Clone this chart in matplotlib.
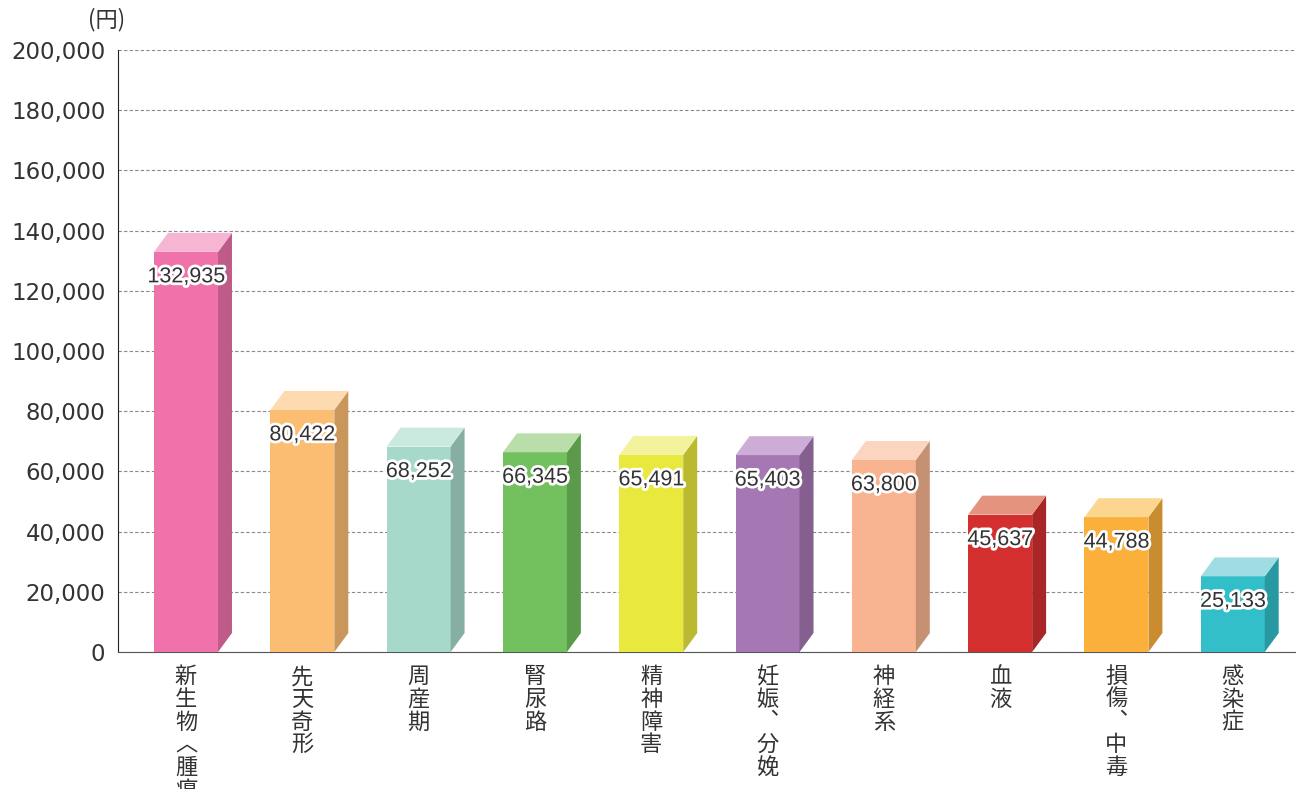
import numpy as np
import matplotlib
matplotlib.use("Agg")
import matplotlib.pyplot as plt
import matplotlib.colors as mcolors
import matplotlib.patheffects as pe

plt.rcParams['font.family'] = ['Noto Sans CJK JP', 'DejaVu Sans']

categories = ["新生物︿腫瘍﹀", "先天奇形", "周産期", "腎尿路", "精神障害",
              "妊娠︑分娩", "神経系", "血液", "損傷︑中毒", "感染症"]
values = [132935, 80422, 68252, 66345, 65491, 65403, 63800, 45637, 44788, 25133]
front_colors = ["#EF72AA", "#FBBD72", "#A7D9CA", "#72C05E", "#E9E83C",
                "#A577B3", "#F8B490", "#D32F2F", "#FBB03B", "#33BFC9"]
top_colors = ["#F5B5D3", "#FDDAB0", "#CCE9E0", "#B9DEAA", "#F3F29D",
              "#CDADD6", "#FBD5BF", "#E3937E", "#FCD58E", "#A0DDE2"]

fig = plt.figure(figsize=(12.99, 7.89), dpi=100)
ax = fig.add_axes([118 / 1299, 137 / 789, 1177 / 1299, 602 / 789])

w = 0.55      # front face width
dx = 0.12     # depth in x units
dy = 6300     # depth in y units

for i, (v, c, tc) in enumerate(zip(values, front_colors, top_colors)):
    side = np.array(mcolors.to_rgb(c)) * 0.8
    ax.bar(i, v, width=w, align="edge", color=c, zorder=3)
    ax.fill([i + w, i + w + dx, i + w + dx, i + w], [0, dy, v + dy, v],
            color=side, zorder=3, lw=0)
    ax.fill([i, i + w, i + w + dx, i + dx], [v, v, v + dy, v + dy],
            color=tc, zorder=3, lw=0)
    ax.text(i + w / 2, v - 8300, f"{v:,}", ha="center", va="center",
            fontsize=15.5, color="#333333", family="Liberation Sans", zorder=5,
            path_effects=[pe.withStroke(linewidth=4, foreground="white")])
    ax.text(i + w / 2, -0.022, "\n".join(categories[i]), transform=ax.get_xaxis_transform(),
            ha="center", va="top", fontsize=16, color="#333333", linespacing=0.98)

ax.set_xlim(-0.31, 9.81)
ax.set_ylim(0, 200000)
ax.set_yticks(range(0, 200001, 20000))
ax.set_yticklabels([f"{t:,}" for t in range(0, 200001, 20000)],
                   fontsize=16.5, color="#333333", family="DejaVu Sans")
ax.set_xticks([])
ax.tick_params(axis="y", length=0, pad=9)
ax.yaxis.grid(True, linestyle=(0, (3, 2)), color="#888888", lw=0.8)
ax.set_axisbelow(True)
for s in ["top", "right"]:
    ax.spines[s].set_visible(False)
ax.spines["bottom"].set_linestyle((0, (2, 1)))
ax.spines["bottom"].set_color("#555555")
ax.spines["left"].set_color("#222222")

fig.text(107 / 1299, 1 - 20 / 789, "(円)", ha="center", va="center",
         fontsize=16, color="#333333")

fig.savefig("out.png", dpi=100)
